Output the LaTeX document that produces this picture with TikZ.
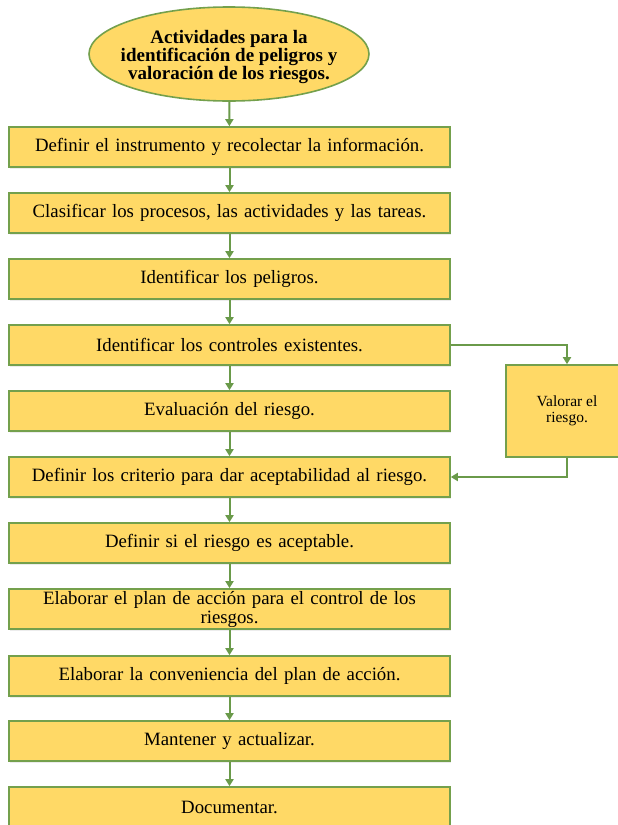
\documentclass[tikz,border=0pt]{standalone}
\usepackage{fontspec}
\setmainfont{Liberation Serif}
\usetikzlibrary{arrows.meta,shapes.geometric,shadows}
\definecolor{boxfill}{HTML}{FFD966}
\definecolor{boxline}{HTML}{74A04C}
\definecolor{conn}{HTML}{6A9A4A}
\tikzset{
  stepbox/.style={draw=boxline, line width=1.6pt, fill=boxfill,
    minimum width=441pt, minimum height=40pt, inner sep=2pt,
    align=center, font=\fontsize{18.8}{19}\selectfont, text width=430pt,
    drop shadow={shadow xshift=1pt, shadow yshift=-2pt, opacity=0.15}},
  sidebox/.style={draw=boxline, line width=1.6pt, fill=boxfill,
    minimum width=122pt, minimum height=92pt, inner sep=2pt,
    align=center, font=\fontsize{15.5}{15.7}\selectfont},
  startell/.style={ellipse, draw=boxline, line width=1.6pt, fill=boxfill,
    minimum width=280pt, minimum height=94pt, inner sep=0pt},
  elltext/.style={align=center, font=\bfseries\fontsize{19}{16}\selectfont},
  link/.style={draw=conn, line width=2pt, -{Triangle[width=8pt,length=7pt]}}
}
\begin{document}
\begin{tikzpicture}[x=1pt,y=-1pt]
\useasboundingbox (0,0) rectangle (618,825);
\clip (0,0) rectangle (618,825);
\node[startell] (s) at (229,54) {};
\node[elltext] (st) at (229,57) {Actividades para la\\identificación de peligros y\\valoración de los riesgos.};
\node[stepbox] (n1) at (229.5,147) {Definir el instrumento y recolectar la información.};
\node[stepbox] (n2) at (229.5,213) {Clasificar los procesos, las actividades y las tareas.};
\node[stepbox] (n3) at (229.5,279) {Identificar los peligros.};
\node[stepbox] (n4) at (229.5,345) {Identificar los controles existentes.};
\node[stepbox] (n5) at (229.5,411) {Evaluación del riesgo.};
\node[stepbox] (n6) at (229.5,477) {Definir los criterio para dar aceptabilidad al riesgo.};
\node[stepbox] (n7) at (229.5,543) {Definir si el riesgo es aceptable.};
\node[stepbox] (n8) at (229.5,609) {Elaborar el plan de acción para el control de los\\riesgos.};
\node[stepbox] (n9) at (229.5,676) {Elaborar la conveniencia del plan de acción.};
\node[stepbox] (n10) at (229.5,741) {Mantener y actualizar.};
\node[stepbox] (n11) at (229.5,807) {Documentar.};
\node[sidebox] (v) at (567,411) {Valorar el\\riesgo.};
\draw[link] (s) -- (n1);
\draw[link] (n1) -- (n2);
\draw[link] (n2) -- (n3);
\draw[link] (n3) -- (n4);
\draw[link] (n4) -- (n5);
\draw[link] (n5) -- (n6);
\draw[link] (n6) -- (n7);
\draw[link] (n7) -- (n8);
\draw[link] (n8) -- (n9);
\draw[link] (n9) -- (n10);
\draw[link] (n10) -- (n11);
\draw[link] (n4.east) -| (v.north);
\draw[link] (v.south) |- (n6.east);
\end{tikzpicture}
\end{document}
